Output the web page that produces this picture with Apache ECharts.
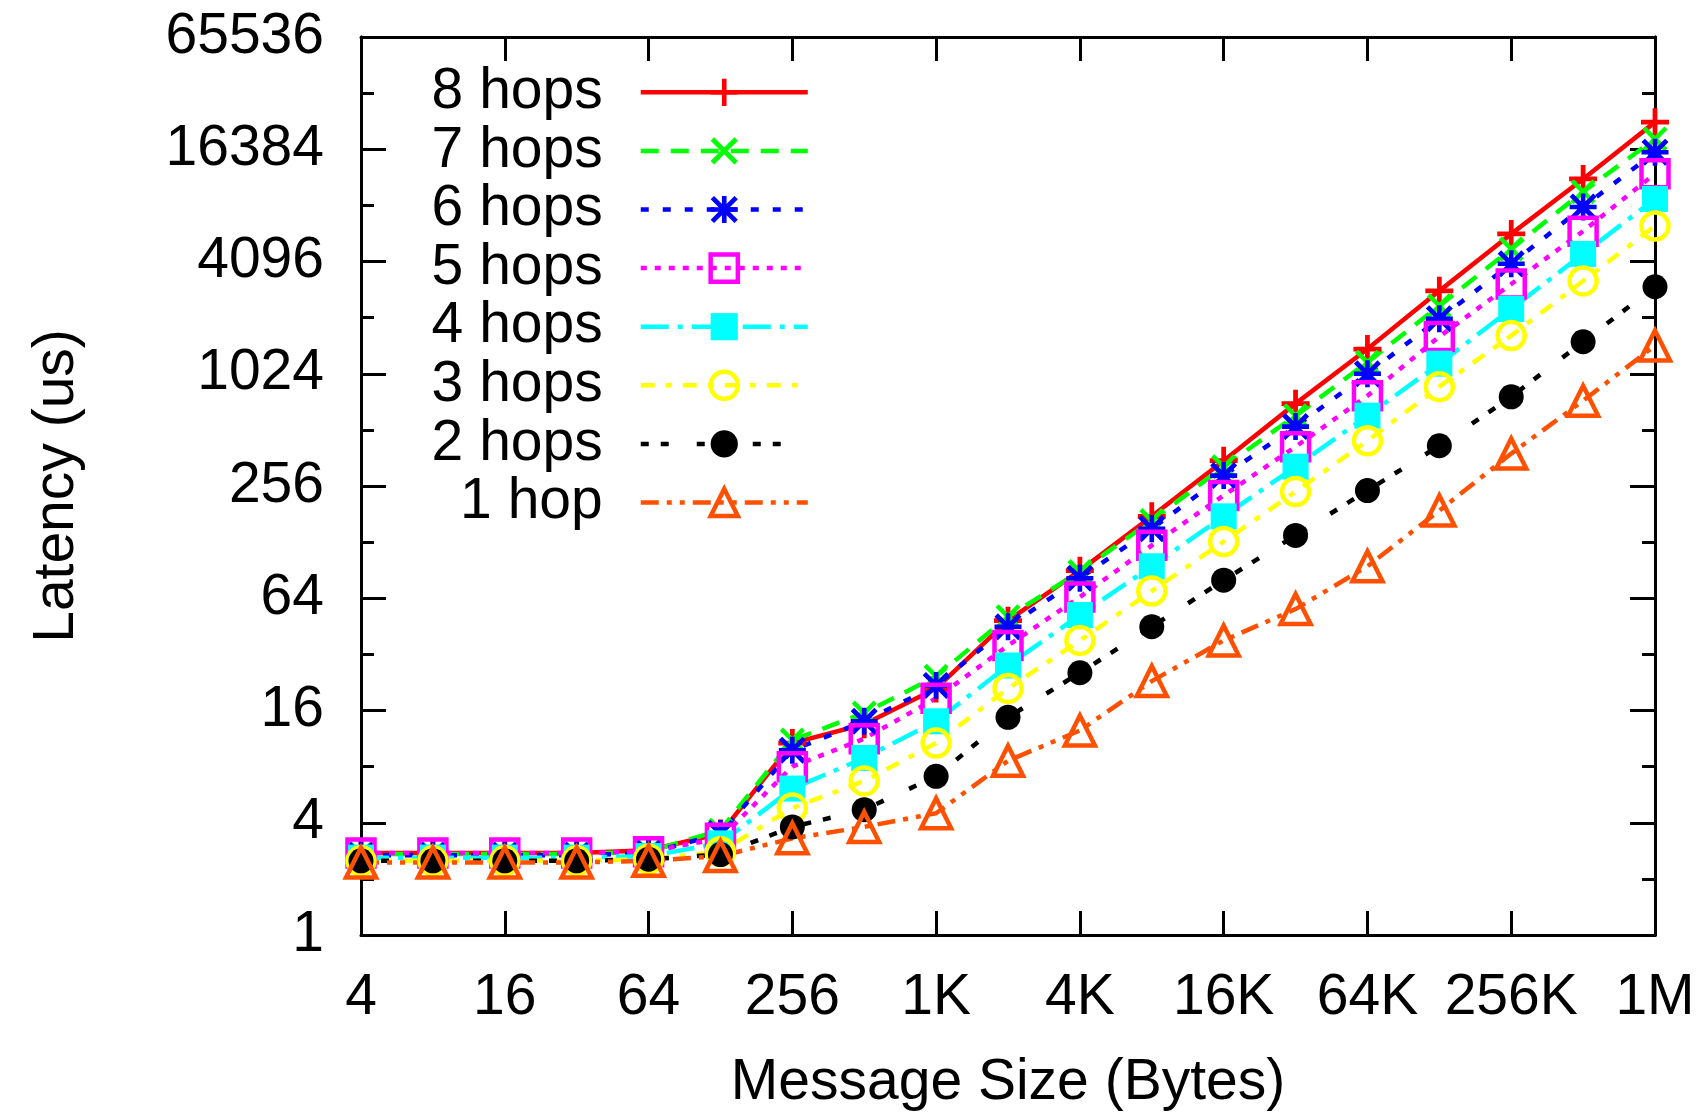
<!DOCTYPE html>
<html lang="en">
<head>
  <meta charset="UTF-8">
  <title>Latency vs message size</title>
  <script src="https://cdn.jsdelivr.net/npm/echarts@6/dist/echarts.min.js"></script>
</head>
<body style="margin:0;background:#fff;">
<div id="main" style="width: 1704px;height:1117px;"></div>
<script type="text/javascript">

// message sizes in bytes
const sizes = [4, 8, 16, 32, 64, 128, 256, 512, 1024, 2048, 4096, 8192, 16384, 32768,
  65536, 131072, 262144, 524288, 1048576];

// latency (us) per hop count
const hops8 = [2.75, 2.75, 2.75, 2.75, 2.85, 3.5, 10.7, 13.5, 21, 48.5, 90, 176, 350, 708, 1390, 2850, 5760, 11350, 22900];
const hops7 = [2.72, 2.72, 2.72, 2.72, 2.8, 3.65, 11.1, 15.5, 24.4, 51, 89, 167, 325, 610, 1180, 2370, 4780, 9700, 18600];
const hops6 = [2.68, 2.68, 2.68, 2.68, 2.75, 3.5, 9.8, 14.0, 21.8, 45, 82, 151, 291, 533, 1024, 2020, 3980, 8030, 15800];
const hops5 = [2.75, 2.75, 2.75, 2.75, 2.8, 3.3, 8.0, 11.3, 18.6, 35.7, 65, 123, 228, 416, 780, 1620, 3100, 5960, 12100];
const hops4 = [2.6, 2.6, 2.6, 2.6, 2.65, 3.1, 6.1, 8.9, 14, 27.9, 52, 95, 176, 325, 610, 1160, 2280, 4500, 8870];
const hops3 = [2.5, 2.5, 2.5, 2.5, 2.55, 2.8, 4.8, 6.7, 10.7, 21, 38, 70, 129, 239, 447, 873, 1640, 3220, 6350];
const hops2 = [2.5, 2.5, 2.5, 2.5, 2.55, 2.7, 3.8, 4.7, 7.1, 14.7, 25.5, 45, 80, 139, 242, 421, 770, 1520, 3000];
const hops1 = [2.45, 2.45, 2.45, 2.45, 2.5, 2.65, 3.3, 3.8, 4.5, 8.6, 12.5, 23, 38, 56, 95, 189, 382, 734, 1450];

const names = ['8 hops', '7 hops', '6 hops', '5 hops', '4 hops', '3 hops', '2 hops', '1 hop'];

const FONT = 'Liberation Sans';
// thick gnuplot-like point shapes, filled outlines in a -1..1 box
const vBar = 'M-0.17,-1L0.17,-1L0.17,1L-0.17,1Z';
const hBar = 'M1,-0.17L1,0.17L-1,0.17L-1,-0.17Z';
const dBar1 = 'M-1,-0.75L-0.75,-1L1,0.75L0.75,1Z';
const dBar2 = 'M1,-0.75L-0.75,1L-1,0.75L0.75,-1Z';
const plus = 'path://' + vBar + hBar;
const cross = 'path://' + dBar1 + dBar2;
const star = 'path://' + vBar + hBar + dBar1 + dBar2;

const styles = [
  {values: hops8, color: '#ff0000', dash: 'solid', symbol: plus, size: 28, open: false},
  {values: hops7, color: '#00ff00', dash: [18, 12], symbol: cross, size: 25, open: false},
  {values: hops6, color: '#0000ff', dash: [8, 14], symbol: star, size: 27, open: false},
  {values: hops5, color: '#ff00ff', dash: [6, 8], symbol: 'rect', size: 27, open: true},
  {values: hops4, color: '#00ffff', dash: [28, 9, 5, 9], symbol: 'rect', size: 26, open: false},
  {values: hops3, color: '#ffff00', dash: [14, 11, 6, 11], symbol: 'circle', size: 27, open: true},
  {values: hops2, color: '#000000', dash: [8, 12, 8, 28], symbol: 'circle', size: 25, open: false},
  {values: hops1, color: '#ff5000', dash: [18, 8, 5, 8, 5, 8], symbol: 'triangle', size: 30, open: true}
];

const myChart = echarts.init(document.getElementById('main'));

function sizeLabel(v) {
  v = Math.round(v);
  if (v >= 1048576) return (v / 1048576) + 'M';
  if (v >= 1024) return (v / 1024) + 'K';
  return String(v);
}

const tickColor = '#000';
function yAxisDef(position, interval, tickLen, withLabel) {
  return {
    type: 'log',
    logBase: 2,
    min: 1,
    max: 65536,
    interval: interval,
    position: position,
    axisLine: {show: true, lineStyle: {color: tickColor, width: 3}},
    axisTick: {show: true, inside: true, length: tickLen, lineStyle: {color: tickColor, width: 3}},
    axisLabel: {
      show: withLabel,
      fontSize: 57,
      fontFamily: FONT,
      color: '#000',
      margin: 37,
      formatter: function (v) { return String(Math.round(v)); }
    },
    splitLine: {show: false}
  };
}

function xAxisDef(position, withLabel) {
  return {
    type: 'log',
    logBase: 2,
    min: 4,
    max: 1048576,
    interval: 2,
    position: position,
    axisLine: {show: true, lineStyle: {color: tickColor, width: 3}},
    axisTick: {show: true, inside: true, length: 24, lineStyle: {color: tickColor, width: 3}},
    axisLabel: {
      show: withLabel,
      fontSize: 57,
      fontFamily: FONT,
      color: '#000',
      margin: 35,
      formatter: sizeLabel
    },
    splitLine: {show: false}
  };
}

const xBottom = xAxisDef('bottom', true);
xBottom.name = 'Message Size (Bytes)';
xBottom.nameLocation = 'middle';
xBottom.nameGap = 120;
xBottom.nameTextStyle = {fontSize: 57, fontFamily: FONT, color: '#000'};

const yLeft = yAxisDef('left', 2, 25, true);
yLeft.name = 'Latency (us)';
yLeft.nameLocation = 'middle';
yLeft.nameGap = 275;
yLeft.nameTextStyle = {fontSize: 57, fontFamily: FONT, color: '#000'};

const series = styles.map(function (s, i) {
  return {
    name: names[i],
    type: 'line',
    xAxisIndex: 0,
    yAxisIndex: 0,
    data: sizes.map(function (x, j) { return [x, s.values[j]]; }),
    symbol: s.symbol,
    symbolSize: s.size,
    showAllSymbol: true,
    lineStyle: {color: s.color, width: 4.5, type: s.dash},
    itemStyle: s.open
      ? {color: 'rgba(255,255,255,0)', borderColor: s.color, borderWidth: 4.5}
      : {color: s.color, borderWidth: 0},
    emphasis: {disabled: true}
  };
});

const legendData = styles.map(function (s, i) {
  return s.open
    ? {name: names[i], itemStyle: {color: 'rgba(255,255,255,0)', borderColor: s.color, borderWidth: 4.5}}
    : {name: names[i]};
});

const option = {
  animation: false,
  backgroundColor: '#fff',
  grid: {left: 361, right: 49, top: 37, bottom: 178, containLabel: false},
  legend: {
    data: legendData,
    orient: 'vertical',
    right: 889,
    top: 58,
    align: 'right',
    itemWidth: 167,
    itemHeight: 34,
    itemGap: 0,
    selectedMode: false,
    lineStyle: {width: 4.5},
    textStyle: {fontSize: 57, fontFamily: FONT, color: '#000', lineHeight: 58.6, padding: [0, 33, 0, 0]}
  },
  xAxis: [xBottom, xAxisDef('top', false)],
  yAxis: [yLeft, yAxisDef('left', 1, 13, false), yAxisDef('right', 2, 25, false), yAxisDef('right', 1, 13, false)],
  series: series
};
myChart.setOption(option);
</script>
</body>
</html>
